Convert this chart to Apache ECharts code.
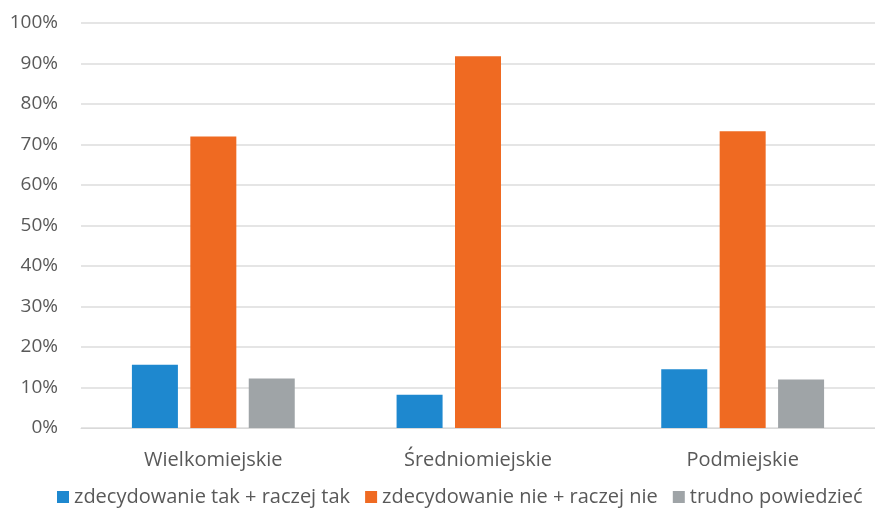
<!DOCTYPE html>
<html>
<head>
<meta charset="utf-8">
<script src="https://cdn.jsdelivr.net/npm/echarts@6/dist/echarts.min.js"></script>
<style>
  html, body { margin: 0; padding: 0; background: #fff; }
  #chart { width: 875px; height: 519px; }
</style>
</head>
<body>
<div id="chart"></div>
<script>
const categories = ['Wielkomiejskie', 'Średniomiejskie', 'Podmiejskie'];
const seriesNames = ['zdecydowanie tak + raczej tak', 'zdecydowanie nie + raczej nie', 'trudno powiedzieć'];
const takValues = [15.6, 8.2, 14.5];
const nieValues = [72.0, 91.8, 73.3];
const trudnoValues = [12.2, 0, 12.0];
const colors = ['#1E88CF', '#EF6A22', '#9FA4A7'];

const chart = echarts.init(document.getElementById('chart'));

// wspólny styl słupków
function bar(name, data, color) {
  return {
    name: name,
    type: 'bar',
    data: data,
    barWidth: 46,
    barGap: '27%',
    itemStyle: { color: color }
  };
}

const option = {
  animation: false,
  textStyle: { fontFamily: 'Open Sans' },
  grid: { left: 81, top: 23, width: 801, height: 405 },
  legend: {
    bottom: 7,
    left: 52,
    itemWidth: 12,
    itemHeight: 12,
    itemGap: 15,
    icon: 'rect',
    textStyle: { color: '#595959', fontSize: 20, fontFamily: 'Open Sans' },
    data: seriesNames
  },
  xAxis: {
    type: 'category',
    data: categories,
    axisTick: { show: false },
    axisLine: { lineStyle: { color: '#d9d9d9' } },
    axisLabel: { color: '#595959', fontSize: 20, margin: 22 }
  },
  yAxis: {
    type: 'value',
    min: 0,
    max: 100,
    interval: 10,
    axisLabel: { color: '#595959', fontSize: 19, margin: 23, formatter: '{value}%' },
    splitLine: { lineStyle: { color: '#dcdcdc', width: 1.5 } },
    axisLine: { show: false },
    axisTick: { show: false }
  },
  series: [
    bar(seriesNames[0], takValues, colors[0]),
    bar(seriesNames[1], nieValues, colors[1]),
    bar(seriesNames[2], trudnoValues, colors[2])
  ]
};

chart.setOption(option);
</script>
</body>
</html>
